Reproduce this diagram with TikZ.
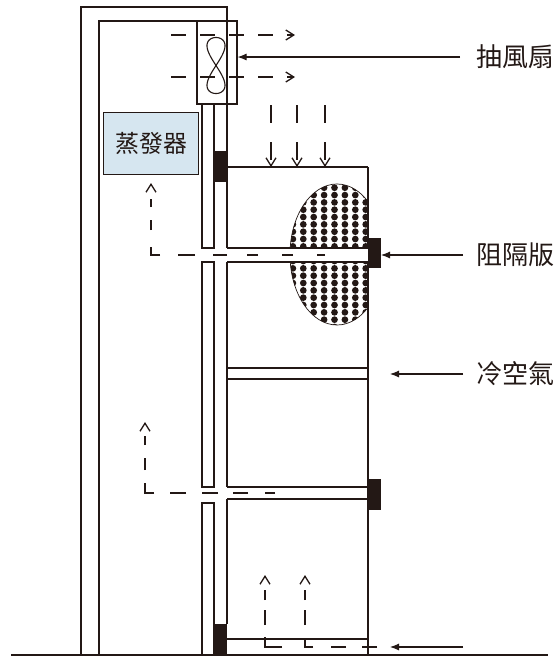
\documentclass[tikz,border=0pt]{standalone}
\usepackage{fontspec}
\newfontfamily\cjk{Noto Sans CJK TC}
\usetikzlibrary{arrows.meta}
\definecolor{ink}{RGB}{35,24,21}
\definecolor{evapfill}{RGB}{214,230,240}
\begin{document}
\begin{tikzpicture}[x=1pt,y=-1pt,
  wall/.style={draw=ink, line width=1.1pt},
  block/.style={fill=ink, draw=none, inner sep=0, outer sep=0},
  flow/.style={draw=ink, line width=1.3pt, -{Straight Barb[length=8pt,width=10pt,line width=1.3pt]}},
  pointer/.style={draw=ink, line width=1.1pt, -{Latex[length=9pt,width=7pt]}},
  lbl/.style={font=\cjk\fontsize{26}{30}\selectfont, text=ink, inner sep=0, anchor=west}]

\fill[white] (0,0) rectangle (555,657);
\useasboundingbox (0,0) rectangle (555,657);

% perforated panel behind the upper barrier
\begin{scope}
  \clip (280,170) rectangle (368,340);
  \clip (337,254.5) ellipse [x radius=47pt, y radius=70.5pt];
  \foreach \i in {0,...,8}{
    \foreach \j in {0,...,20}{
      \fill[ink] (292.9+10.4*\i, 180.4+7.33*\j) circle[radius=3.35pt];
    }
  }
\end{scope}
\begin{scope}
  \clip (280,170) rectangle (368,340);
  \draw[ink, line width=0.7pt] (337,254.5) ellipse [x radius=47pt, y radius=70.5pt];
\end{scope}

% outer and inner housing
\draw[wall] (81,655) -- (81,7) -- (227,7) -- (227,248);
\draw[wall] (99,655) -- (99,21) -- (197,21);

% partition strip with openings
\draw[wall] (202,104) rectangle (214,248);
\draw[wall] (202,262) rectangle (214,487);
\draw[wall] (202,503) -- (202,655) -- (214,655) -- (214,503) -- cycle;

% storage room walls
\draw[wall] (227,167) -- (368,167);
\draw[wall] (368,167) -- (368,655);
\draw[wall] (227,262) -- (227,487);
\draw[wall] (227,499) -- (227,624);

% shelves
\fill[white] (227,248) rectangle (368,262);
\draw[wall] (227,248) -- (368,248);
\draw[wall] (227,262) -- (368,262);
\draw[wall] (227,368) -- (368,368);
\draw[wall] (227,379) -- (368,379);
\draw[wall] (227,487) -- (368,487);
\draw[wall] (227,499) -- (368,499);
\draw[wall] (227,639) -- (368,639);

% ground
\draw[ink, line width=1.4pt] (11,655) -- (548,655);

% barrier blocks
\node[block, minimum width=14pt, minimum height=31pt] (blkA) at (221,166.5) {};
\node[block, minimum width=13pt, minimum height=30pt] (bar1) at (374.5,253) {};
\node[block, minimum width=14pt, minimum height=31pt] (bar2) at (374,494.5) {};
\node[block, minimum width=13pt, minimum height=31pt] (blkB) at (220.5,639.5) {};

% fan housing and fan symbol
\node[draw=ink, line width=1.1pt, minimum width=40pt, minimum height=83pt, inner sep=0] (fan) at (217,62.5) {};
\draw[ink, line width=1.1pt] plot[domain=0:360, samples=90, smooth]
  ({216+9*sin(2*\x)}, {65.5+28*cos(\x)});

% evaporator
\node[draw=ink, fill=evapfill, line width=1.4pt, minimum width=95pt, minimum height=62pt, inner sep=0, text=ink,
  font=\cjk\fontsize{24}{28}\selectfont] (evap) at (151,143.5) {蒸發器};

% air flow paths
\coordinate (fa1) at (171,35);  \coordinate (fa2) at (295,35);
\coordinate (fb1) at (171,77);  \coordinate (fb2) at (295,77);
\draw[flow, dash pattern=on 15pt off 14pt] (fa1) -- (fa2);
\draw[flow, dash pattern=on 15pt off 14pt] (fb1) -- (fb2);

\foreach \n/\xx in {d1/271, d2/297, d3/325}{
  \coordinate (\n s) at (\xx,105);
  \coordinate (\n e) at (\xx,167);
  \draw[flow, dash pattern=on 18pt off 19pt] (\n s) -- (\n e);
}

\coordinate (ua) at (325,255); \coordinate (ub) at (151,255); \coordinate (uc) at (151,183);
\draw[flow, dash pattern=on 8pt off 24pt on 11pt off 24pt on 11pt off 20pt on 14pt off 18pt on 17pt off 18pt on 17pt off 17pt on 10pt off 13pt on 8pt off 40pt]
  (ua) -- (ub) -- (uc);

\coordinate (la) at (275,493); \coordinate (lb) at (145,493); \coordinate (lc) at (145,422);
\draw[flow, dash pattern=on 10pt off 17pt on 15pt off 15pt on 16pt off 16pt on 16pt off 16pt on 19pt off 13pt on 12pt off 13pt on 9pt off 30pt]
  (la) -- (lb) -- (lc);

\coordinate (ba) at (377,647); \coordinate (bb) at (265,647); \coordinate (bc) at (265,575);
\draw[flow, dash pattern=on 15pt off 16pt on 15pt off 49pt on 27pt off 12pt on 15pt off 10pt on 10pt off 30pt]
  (ba) -- (bb) -- (bc);
\coordinate (ca) at (313,647); \coordinate (cb) at (305,647); \coordinate (cc) at (305,575);
\draw[flow, dash pattern=on 17pt off 13pt on 15pt off 10pt on 10pt off 30pt]
  (ca) -- (cb) -- (cc);

% incoming air
\coordinate (inS) at (463,647); \coordinate (inE) at (390,647);
\draw[pointer] (inS) -- (inE);

% labels
\node[lbl] (fanlbl) at (476,57) {抽風扇};
\node[lbl] (barlbl) at (476,255) {阻隔版};
\node[lbl] (coldlbl) at (476,374) {冷空氣};
\coordinate (coldtip) at (390,374);

\draw[pointer] ([xshift=-16pt]fanlbl.west) -- (fan.east |- fanlbl.west);
\draw[pointer] ([xshift=-13pt]barlbl.west) -- (bar1.east |- barlbl.west);
\draw[pointer] ([xshift=-13pt]coldlbl.west) -- (coldtip);
\end{tikzpicture}
\end{document}
